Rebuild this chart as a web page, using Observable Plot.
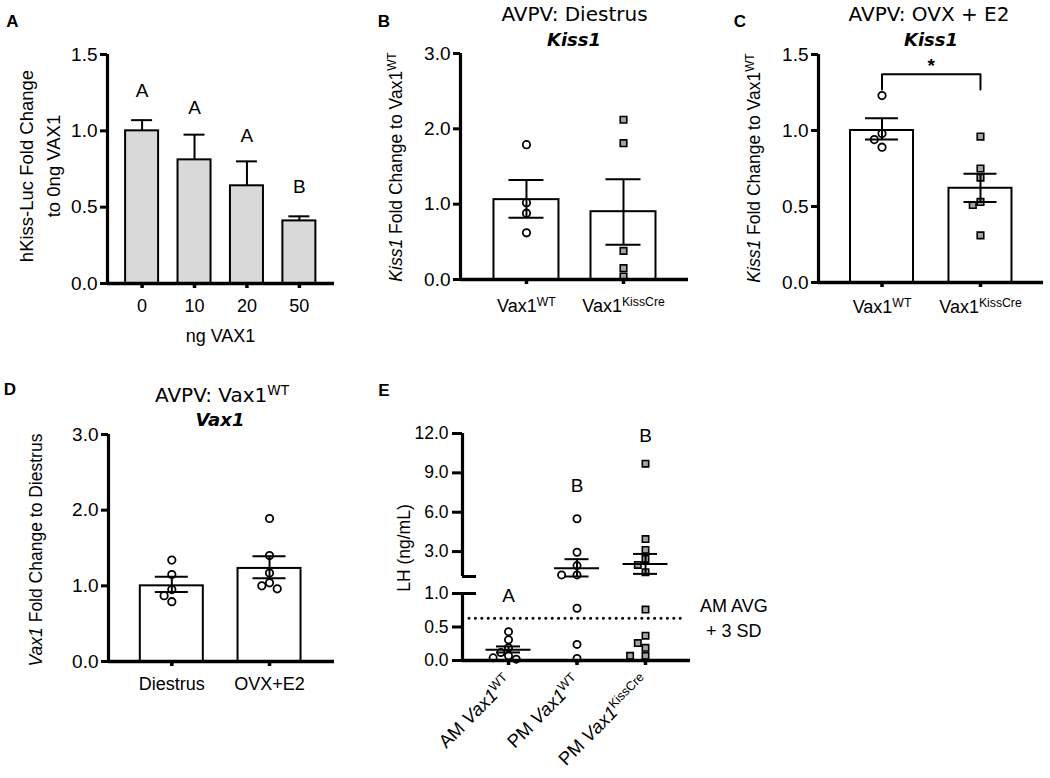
<!DOCTYPE html>
<html>
<head>
<meta charset="utf-8">
<script src="https://cdn.jsdelivr.net/npm/d3@7"></script>
<script src="https://cdn.jsdelivr.net/npm/@observablehq/plot@0.6"></script>
<style>
html,body{margin:0;padding:0;background:#fff;}
#fig{position:relative;width:1050px;height:778px;overflow:hidden;background:#fff;font-family:"Liberation Sans",Arial,Helvetica,sans-serif;color:#000;}
.t{position:absolute;white-space:nowrap;line-height:1;transform:translate(-50%,-50%);}
.tl{position:absolute;white-space:nowrap;line-height:1;transform:translate(0,-50%);}
.letter{font-weight:bold;font-size:17px;}
.title{font-family:"DejaVu Sans",Verdana,sans-serif;font-size:20px;}
.gene{font-family:"DejaVu Sans",Verdana,sans-serif;font-size:18px;font-weight:bold;font-style:italic;}
.ylab{font-size:17.5px;transform:translate(-50%,-50%) rotate(-90deg);text-align:center;}
.ylabA{font-size:18.5px;line-height:27px;}
.xlab{font-size:18px;}
.side{font-size:18px;}
.panel{position:absolute;}
.panel svg{overflow:visible;display:block;}
sup{font-size:0.68em;line-height:0;vertical-align:0.55em;}
</style>
</head>
<body>
<div id="fig"></div>
<script>
// ================= DATA =================
// Panel A
const aDoses   = ["0", "10", "20", "50"];
const aMeans   = [1.00, 0.81, 0.64, 0.41];
const aUpper   = [1.07, 0.975, 0.80, 0.44];
const aLetters = ["A", "A", "A", "B"];
const aLetterY = [1.26, 1.15, 0.97, 0.63];
const aTicks   = [0, 0.5, 1.0, 1.5];

// Panel B
const bGroups   = ["Vax1^WT", "Vax1^KissCre"];
const bMeans    = [1.06, 0.90];
const bLow      = [0.82, 0.46];
const bHigh     = [1.32, 1.33];
const bWT       = [1.79, 1.02, 0.88, 0.62];
const bKissCre  = [2.12, 1.81, 0.38, 0.15, 0.04];
const bTicks    = [0, 1, 2, 3];

// Panel C
const cGroups   = ["Vax1^WT", "Vax1^KissCre"];
const cMeans    = [1.00, 0.62];
const cLow      = [0.94, 0.53];
const cHigh     = [1.08, 0.715];
const cWT       = [1.23, 0.98, 0.94, 0.89];
const cKissCre  = [0.96, 0.75, 0.69, 0.53, 0.51, 0.31];
const cBracket  = [1.27, 1.37];
const cStar     = "*";
const cStarY    = 1.425;
const cTicks    = [0, 0.5, 1.0, 1.5];

// Panel D
const dGroups   = ["Diestrus", "OVX+E2"];
const dMeans    = [1.00, 1.23];
const dLow      = [0.92, 1.10];
const dHigh     = [1.12, 1.39];
const dDiestrus = [1.34, 1.15, 0.95, 0.87, 0.79];
const dOVX      = [1.89, 1.40, 1.17, 1.04, 1.00, 0.96];
const dTicks    = [0, 1, 2, 3];

// Panel E
const eGroups    = ["AM Vax1^WT", "PM Vax1^WT", "PM Vax1^KissCre"];
const eAM        = [0.43, 0.31, 0.19, 0.12, 0.07, 0.04, 0.02];
const ePMWT      = [5.5, 2.95, 1.93, 1.22, 1.22, 0.78, 0.24, 0.03];
const ePMKissCre = [9.7, 3.95, 3.13, 2.44, 1.98, 1.43, 0.76, 0.37, 0.26, 0.19, 0.07, 0.07];
const eMeans     = [0.16, 1.73, 2.06];
const eLow       = [0.12, 1.10, 1.30];
const eHigh      = [0.21, 2.42, 2.82];
const eLetters   = ["A", "B", "B"];
const eLetterY   = [0.96, 8.0, 11.8];
const eThreshold = 0.63;
const eTopTicks  = [3, 6, 9, 12];
const eBotTicks  = [0, 0.5, 1.0];
const eTopDomain = [1.1, 12];
const eBotDomain = [0, 1];

// ================= HELPERS =================
const FONT = '"Liberation Sans", Arial, Helvetica, sans-serif';
const SQ_FILL = "#a4a4a4";
const fig = document.getElementById("fig");
const fmt1 = d3.format(".1f");

function place(svg, left, top, w) {
  const d = document.createElement("div");
  d.className = "panel";
  d.style.left = left + "px"; d.style.top = top + "px"; d.style.width = w + "px";
  d.appendChild(svg); fig.appendChild(d);
}
function label(html, cls, x, y) {
  const d = document.createElement("div");
  d.className = cls; d.style.left = x + "px"; d.style.top = y + "px";
  d.innerHTML = html; fig.appendChild(d);
}
function dodge(vals, pxY, diam = 8, step = 7.7) {
  const placed = [];
  return vals.map(v => {
    const py = v * pxY;
    for (let k = 0; k < 60; k++) {
      const off = k === 0 ? 0 : (k % 2 ? -1 : 1) * Math.ceil(k / 2) * step;
      if (placed.every(([px, qy]) => Math.hypot(px - off, qy - py) >= diam)) { placed.push([off, py]); return off; }
    }
    return 0;
  });
}
function richText(svg, italicWords) {
  d3.select(svg).selectAll("text").each(function () {
    const t = this.textContent;
    if (!t.includes("^")) return;
    const [base, sup] = t.split("^");
    const sel = d3.select(this);
    sel.text(null);
    const words = base.split(" ");
    words.forEach((w, i) => {
      const ts = sel.append("tspan").text(w + (i < words.length - 1 ? " " : ""));
      if (italicWords.includes(w)) ts.attr("font-style", "italic");
    });
    sel.append("tspan").attr("dy", "-0.55em").attr("font-size", "0.68em").text(sup);
  });
}
function dotMarks(pts, r = 3.7) {
  return [
    Plot.dot(pts.filter(p => p.sym === "circle"), {x: "x", y: "y", r, symbol: "circle", fill: "white", stroke: "black", strokeWidth: 1.8}),
    Plot.dot(pts.filter(p => p.sym === "square"), {x: "x", y: "y", r, symbol: "square", fill: SQ_FILL, stroke: "black", strokeWidth: 1.6})
  ];
}
const baseStyle = {fontSize: "17px", fontFamily: FONT, background: "transparent", overflow: "visible", color: "black"};

function barPanel(o) {
  const pxX = (o.width - o.ml - o.mr) / (o.xd[1] - o.xd[0]);
  const pxY = (o.height - o.mt - o.mb) / (o.yd[1] - o.yd[0]);
  const bh = o.barW / 2 / pxX, ch = o.capW / 2 / pxX;
  const idx = o.labels.map((_, i) => i);
  const stats = idx.map(i => ({i, mean: o.means[i], lo: o.low ? o.low[i] : o.means[i], hi: o.high[i]}));
  const pts = [];
  (o.groups || []).forEach((vals, g) => {
    const off = dodge(vals, pxY);
    vals.forEach((v, k) => pts.push({x: g + off[k] / pxX, y: v, sym: o.symbols[g]}));
  });
  const marks = [
    Plot.rectY(stats, {x1: d => d.i - bh, x2: d => d.i + bh, y1: 0, y2: "mean", fill: o.barFill, stroke: "black", strokeWidth: 2}),
    ...dotMarks(pts),
    Plot.ruleX(stats, {x: "i", y1: "lo", y2: "hi", strokeWidth: 2}),
    Plot.ruleY(stats, {y: "hi", x1: d => d.i - ch, x2: d => d.i + ch, strokeWidth: 2})
  ];
  if (o.low) marks.push(Plot.ruleY(stats, {y: "lo", x1: d => d.i - ch, x2: d => d.i + ch, strokeWidth: 2}));
  if (o.extra) marks.push(...o.extra);
  marks.push(
    Plot.ruleY([o.yd[0]], {strokeWidth: 3.4}),
    Plot.ruleX([o.xd[0]], {y1: o.yd[0], y2: o.yd[1], strokeWidth: 3.2}),
    Plot.axisY({ticks: o.yTicks, tickFormat: fmt1, tickSize: 7, tickPadding: 3, strokeWidth: 3, fontSize: 19, label: null}),
    Plot.axisX({ticks: idx, tickFormat: i => o.labels[i], tickSize: 5, tickPadding: o.xPad, strokeWidth: 3.5, fontSize: 18, label: null})
  );
  const svg = Plot.plot({
    width: o.width, height: o.height,
    marginLeft: o.ml, marginRight: o.mr, marginTop: o.mt, marginBottom: o.mb,
    x: {domain: o.xd}, y: {domain: o.yd},
    style: baseStyle, marks
  });
  richText(svg, o.italic || []);
  return svg;
}

// ================= PANEL A =================
place(barPanel({
  width: 350, height: 345, ml: 107, mr: 16, mt: 54, mb: 62,
  xd: [-0.66, 3.67], yd: [0, 1.5], yTicks: aTicks, xPad: 11,
  labels: aDoses, means: aMeans, low: null, high: aUpper,
  barW: 33, capW: 21, barFill: "#d9d9d9",
  extra: [Plot.text(aLetters, {x: (d, i) => i, y: (d, i) => aLetterY[i], text: d => d, fontSize: 19})]
}), 0, 0, 350);

// ================= PANEL B =================
place(barPanel({
  width: 340, height: 345, ml: 100, mr: 12, mt: 53, mb: 66,
  xd: [-0.68, 1.67], yd: [0, 3], yTicks: bTicks, xPad: 15,
  labels: bGroups, means: bMeans, low: bLow, high: bHigh,
  barW: 65, capW: 35, barFill: "white",
  groups: [bWT, bKissCre], symbols: ["circle", "square"]
}), 360, 0, 340);

// ================= PANEL C =================
const cBr = [{x: 0, y: cBracket[0]}, {x: 0, y: cBracket[1]}, {x: 1, y: cBracket[1]}, {x: 1, y: cBracket[0]}];
place(barPanel({
  width: 350, height: 345, ml: 118, mr: 7, mt: 54, mb: 63,
  xd: [-0.645, 1.64], yd: [0, 1.5], yTicks: cTicks, xPad: 13,
  labels: cGroups, means: cMeans, low: cLow, high: cHigh,
  barW: 63, capW: 33, barFill: "white",
  groups: [cWT, cKissCre], symbols: ["circle", "square"],
  extra: [
    Plot.line(cBr, {x: "x", y: "y", strokeWidth: 2}),
    Plot.text([cStar], {x: 0.5, y: cStarY, text: d => d, fontSize: 19, fontWeight: "bold"})
  ]
}), 700, 0, 350);

// ================= PANEL D =================
place(barPanel({
  width: 350, height: 345, ml: 108, mr: 16, mt: 54, mb: 64,
  xd: [-0.648, 1.665], yd: [0, 3], yTicks: dTicks, xPad: 11,
  labels: dGroups, means: dMeans, low: dLow, high: dHigh,
  barW: 63, capW: 33, barFill: "white",
  groups: [dDiestrus, dOVX], symbols: ["circle", "circle"]
}), 0, 380, 350);

// ================= PANEL E (broken y axis) =================
const eX = [-0.672, 2.657];
const eW = 370, eML = 82, eMR = 60;
const ePxX = (eW - eML - eMR) / (eX[1] - eX[0]);
const eSymbols = ["circle", "circle", "square"];
const eAll = [eAM, ePMWT, ePMKissCre];
const meanHalf = 22.5 / ePxX, capHalf = 12 / ePxX, stub = 14 / ePxX;

function ePanel(seg) {
  const top = seg === "top";
  const H = top ? 185 : 193, MT = top ? 33 : 8, MB = top ? 9 : 118;
  const yd = top ? eTopDomain : eBotDomain;
  const pxY = (H - MT - MB) / (yd[1] - yd[0]);
  const inSeg = v => top ? v >= yd[0] : v <= yd[1];
  const pts = [];
  eAll.forEach((vals, g) => {
    const sv = vals.filter(inSeg);
    const off = dodge(sv, pxY);
    sv.forEach((v, k) => pts.push({x: g + off[k] / ePxX, y: v, sym: eSymbols[g]}));
  });
  const stats = eMeans.map((m, i) => ({i, mean: m, lo: Math.max(eLow[i], yd[0]), hi: eHigh[i], loCap: eLow[i]}))
    .filter(d => inSeg(d.mean));
  const letters = eLetters.map((l, i) => ({i, l, y: eLetterY[i]})).filter(d => inSeg(d.y));
  const marks = [
    ...dotMarks(pts, 3.6),
    Plot.ruleX(stats, {x: "i", y1: "lo", y2: "hi", strokeWidth: 2}),
    Plot.ruleY(stats, {y: "mean", x1: d => d.i - meanHalf, x2: d => d.i + meanHalf, strokeWidth: 2}),
    Plot.ruleY(stats, {y: "hi", x1: d => d.i - capHalf, x2: d => d.i + capHalf, strokeWidth: 2}),
    Plot.ruleY(stats.filter(d => d.loCap >= yd[0]), {y: "loCap", x1: d => d.i - capHalf, x2: d => d.i + capHalf, strokeWidth: 2}),
    Plot.text(letters, {x: "i", y: "y", text: "l", fontSize: 19}),
    Plot.ruleX([eX[0]], {y1: yd[0], y2: yd[1], strokeWidth: 3.2}),
    Plot.axisY({ticks: top ? eTopTicks : eBotTicks, tickFormat: fmt1, tickSize: 10, tickPadding: 4, strokeWidth: 3, fontSize: 17.5, label: null}),
    Plot.ruleY([top ? yd[0] : yd[1]], {x1: eX[0], x2: eX[0] + stub, strokeWidth: 3})
  ];
  if (!top) {
    marks.push(
      Plot.ruleY([eThreshold], {strokeWidth: 3, strokeDasharray: "0,6.4", strokeLinecap: "round", insetLeft: 7, insetRight: 5}),
      Plot.ruleY([0], {strokeWidth: 3.4}),
      Plot.axisX({ticks: eGroups.map((_, i) => i), tickFormat: i => eGroups[i], tickSize: 5, tickPadding: 13, tickRotate: -45, strokeWidth: 3.5, fontSize: 18.5, label: null})
    );
  }
  const svg = Plot.plot({
    width: eW, height: H, marginLeft: eML, marginRight: eMR, marginTop: MT, marginBottom: MB,
    x: {domain: eX, axis: top ? null : undefined}, y: {domain: yd},
    style: baseStyle, marks
  });
  richText(svg, ["Vax1"]);
  return svg;
}
place(ePanel("top"), 380, 400, eW);
place(ePanel("bottom"), 380, 585, eW);

// ================= TEXT =================
label("A", "t letter", 12.5, 21);
label("B", "t letter", 384, 21);
label("C", "t letter", 740, 21);
label("D", "t letter", 10, 389);
label("E", "t letter", 384, 390);
label("AVPV: Diestrus", "t title", 574.5, 14);
label("Kiss1", "t gene", 574, 40);
label("AVPV: OVX + E2", "t title", 929, 14);
label("Kiss1", "t gene", 931, 40);
label("AVPV: Vax1<sup>WT</sup>", "t title", 222, 395);
label("Vax1", "t gene", 220, 420);
label("hKiss-Luc Fold Change<br>to 0ng VAX1", "t ylab ylabA", 39.5, 166);
label("<i>Kiss1</i> Fold Change to Vax1<sup>WT</sup>", "t ylab", 397, 167);
label("<i>Kiss1</i> Fold Change to Vax1<sup>WT</sup>", "t ylab", 755, 168);
label("<i>Vax1</i> Fold Change to Diestrus", "t ylab", 37, 550);
label("LH (ng/mL)", "t ylab", 405, 548);
label("ng VAX1", "t xlab", 220.5, 336);
label("AM AVG", "tl side", 700, 606);
label("+ 3 SD", "tl side", 706, 631);
</script>
</body>
</html>
